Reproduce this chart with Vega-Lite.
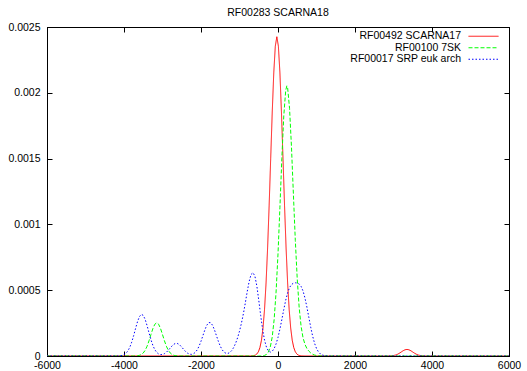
{
  "$schema": "https://vega.github.io/schema/vega-lite/v6.json",
  "width": 462,
  "height": 329,
  "autosize": {"type": "none"},
  "padding": {"left": 47, "top": 27, "right": 18, "bottom": 15},
  "background": "white",
  "title": {"text": "RF00283 SCARNA18", "anchor": "middle", "frame": "group", "fontSize": 10.5, "font": "Liberation Sans", "fontWeight": "normal", "color": "black", "baseline": "alphabetic", "offset": -4},
  "config": {
    "view": {"stroke": "black", "strokeWidth": 1},
    "axis": {"domainColor": "black", "domainWidth": 1, "tickColor": "black", "tickWidth": 1, "tickSize": -5, "labelColor": "black", "labelFont": "Liberation Sans", "labelFontSize": 10.5, "grid": false, "title": null}
  },
  "data": {"values": [
    {"s":"RF00492 SCARNA17","x":-6000,"y":0},
    {"s":"RF00492 SCARNA17","x":-750,"y":0},
    {"s":"RF00492 SCARNA17","x":-710,"y":0.0000004},
    {"s":"RF00492 SCARNA17","x":-670,"y":0.0000011},
    {"s":"RF00492 SCARNA17","x":-630,"y":0.0000028},
    {"s":"RF00492 SCARNA17","x":-590,"y":0.0000066},
    {"s":"RF00492 SCARNA17","x":-550,"y":0.0000149},
    {"s":"RF00492 SCARNA17","x":-510,"y":0.0000318},
    {"s":"RF00492 SCARNA17","x":-470,"y":0.0000635},
    {"s":"RF00492 SCARNA17","x":-430,"y":0.000119},
    {"s":"RF00492 SCARNA17","x":-390,"y":0.000212},
    {"s":"RF00492 SCARNA17","x":-350,"y":0.000353},
    {"s":"RF00492 SCARNA17","x":-310,"y":0.000555},
    {"s":"RF00492 SCARNA17","x":-270,"y":0.000821},
    {"s":"RF00492 SCARNA17","x":-230,"y":0.001143},
    {"s":"RF00492 SCARNA17","x":-190,"y":0.001499},
    {"s":"RF00492 SCARNA17","x":-150,"y":0.00185},
    {"s":"RF00492 SCARNA17","x":-110,"y":0.002151},
    {"s":"RF00492 SCARNA17","x":-70,"y":0.002354},
    {"s":"RF00492 SCARNA17","x":-30,"y":0.002426},
    {"s":"RF00492 SCARNA17","x":10,"y":0.002354},
    {"s":"RF00492 SCARNA17","x":50,"y":0.002151},
    {"s":"RF00492 SCARNA17","x":90,"y":0.00185},
    {"s":"RF00492 SCARNA17","x":130,"y":0.001499},
    {"s":"RF00492 SCARNA17","x":170,"y":0.001143},
    {"s":"RF00492 SCARNA17","x":210,"y":0.000821},
    {"s":"RF00492 SCARNA17","x":250,"y":0.000555},
    {"s":"RF00492 SCARNA17","x":290,"y":0.000353},
    {"s":"RF00492 SCARNA17","x":330,"y":0.000212},
    {"s":"RF00492 SCARNA17","x":370,"y":0.000119},
    {"s":"RF00492 SCARNA17","x":410,"y":0.0000635},
    {"s":"RF00492 SCARNA17","x":450,"y":0.0000318},
    {"s":"RF00492 SCARNA17","x":490,"y":0.0000149},
    {"s":"RF00492 SCARNA17","x":530,"y":0.0000066},
    {"s":"RF00492 SCARNA17","x":570,"y":0.0000028},
    {"s":"RF00492 SCARNA17","x":610,"y":0.0000011},
    {"s":"RF00492 SCARNA17","x":650,"y":0.0000004},
    {"s":"RF00492 SCARNA17","x":700,"y":0},
    {"s":"RF00492 SCARNA17","x":2850,"y":0},
    {"s":"RF00492 SCARNA17","x":2900,"y":0.0000006},
    {"s":"RF00492 SCARNA17","x":2950,"y":0.0000014},
    {"s":"RF00492 SCARNA17","x":3000,"y":0.0000033},
    {"s":"RF00492 SCARNA17","x":3050,"y":0.0000068},
    {"s":"RF00492 SCARNA17","x":3100,"y":0.0000125},
    {"s":"RF00492 SCARNA17","x":3150,"y":0.0000206},
    {"s":"RF00492 SCARNA17","x":3200,"y":0.0000303},
    {"s":"RF00492 SCARNA17","x":3250,"y":0.00004},
    {"s":"RF00492 SCARNA17","x":3300,"y":0.0000473},
    {"s":"RF00492 SCARNA17","x":3350,"y":0.00005},
    {"s":"RF00492 SCARNA17","x":3400,"y":0.0000473},
    {"s":"RF00492 SCARNA17","x":3450,"y":0.00004},
    {"s":"RF00492 SCARNA17","x":3500,"y":0.0000303},
    {"s":"RF00492 SCARNA17","x":3550,"y":0.0000206},
    {"s":"RF00492 SCARNA17","x":3600,"y":0.0000125},
    {"s":"RF00492 SCARNA17","x":3650,"y":0.0000068},
    {"s":"RF00492 SCARNA17","x":3700,"y":0.0000033},
    {"s":"RF00492 SCARNA17","x":3750,"y":0.0000014},
    {"s":"RF00492 SCARNA17","x":3800,"y":0.0000006},
    {"s":"RF00492 SCARNA17","x":3850,"y":0},
    {"s":"RF00492 SCARNA17","x":6000,"y":0},

    {"s":"RF00100 7SK","x":-6000,"y":0},
    {"s":"RF00100 7SK","x":-3750,"y":0},
    {"s":"RF00100 7SK","x":-3700,"y":0.0000007},
    {"s":"RF00100 7SK","x":-3650,"y":0.0000019},
    {"s":"RF00100 7SK","x":-3600,"y":0.0000048},
    {"s":"RF00100 7SK","x":-3550,"y":0.0000111},
    {"s":"RF00100 7SK","x":-3500,"y":0.0000231},
    {"s":"RF00100 7SK","x":-3450,"y":0.0000436},
    {"s":"RF00100 7SK","x":-3400,"y":0.0000746},
    {"s":"RF00100 7SK","x":-3350,"y":0.0001158},
    {"s":"RF00100 7SK","x":-3300,"y":0.000163},
    {"s":"RF00100 7SK","x":-3250,"y":0.000208},
    {"s":"RF00100 7SK","x":-3200,"y":0.000241},
    {"s":"RF00100 7SK","x":-3150,"y":0.000253},
    {"s":"RF00100 7SK","x":-3100,"y":0.000241},
    {"s":"RF00100 7SK","x":-3050,"y":0.000208},
    {"s":"RF00100 7SK","x":-3000,"y":0.000163},
    {"s":"RF00100 7SK","x":-2950,"y":0.0001158},
    {"s":"RF00100 7SK","x":-2900,"y":0.0000746},
    {"s":"RF00100 7SK","x":-2850,"y":0.0000436},
    {"s":"RF00100 7SK","x":-2800,"y":0.0000231},
    {"s":"RF00100 7SK","x":-2750,"y":0.0000111},
    {"s":"RF00100 7SK","x":-2700,"y":0.0000048},
    {"s":"RF00100 7SK","x":-2650,"y":0.0000019},
    {"s":"RF00100 7SK","x":-2600,"y":0.0000007},
    {"s":"RF00100 7SK","x":-2550,"y":0},
    {"s":"RF00100 7SK","x":-500,"y":0},
    {"s":"RF00100 7SK","x":-450,"y":0.0000004},
    {"s":"RF00100 7SK","x":-400,"y":0.0000014},
    {"s":"RF00100 7SK","x":-350,"y":0.0000043},
    {"s":"RF00100 7SK","x":-300,"y":0.0000118},
    {"s":"RF00100 7SK","x":-250,"y":0.0000298},
    {"s":"RF00100 7SK","x":-200,"y":0.0000687},
    {"s":"RF00100 7SK","x":-150,"y":0.0001446},
    {"s":"RF00100 7SK","x":-100,"y":0.0002774},
    {"s":"RF00100 7SK","x":-50,"y":0.0004857},
    {"s":"RF00100 7SK","x":0,"y":0.000776},
    {"s":"RF00100 7SK","x":50,"y":0.0011306},
    {"s":"RF00100 7SK","x":100,"y":0.001503},
    {"s":"RF00100 7SK","x":150,"y":0.0018235},
    {"s":"RF00100 7SK","x":200,"y":0.0020183},
    {"s":"RF00100 7SK","x":230,"y":0.002053},
    {"s":"RF00100 7SK","x":250,"y":0.002039},
    {"s":"RF00100 7SK","x":300,"y":0.0018816},
    {"s":"RF00100 7SK","x":350,"y":0.001588},
    {"s":"RF00100 7SK","x":400,"y":0.001229},
    {"s":"RF00100 7SK","x":450,"y":0.000877},
    {"s":"RF00100 7SK","x":500,"y":0.000583},
    {"s":"RF00100 7SK","x":550,"y":0.000367},
    {"s":"RF00100 7SK","x":600,"y":0.0002254},
    {"s":"RF00100 7SK","x":650,"y":0.0001393},
    {"s":"RF00100 7SK","x":700,"y":0.0000885},
    {"s":"RF00100 7SK","x":750,"y":0.0000574},
    {"s":"RF00100 7SK","x":800,"y":0.0000372},
    {"s":"RF00100 7SK","x":850,"y":0.0000232},
    {"s":"RF00100 7SK","x":900,"y":0.0000135},
    {"s":"RF00100 7SK","x":950,"y":0.0000073},
    {"s":"RF00100 7SK","x":1000,"y":0.0000036},
    {"s":"RF00100 7SK","x":1050,"y":0.0000016},
    {"s":"RF00100 7SK","x":1100,"y":0.0000007},
    {"s":"RF00100 7SK","x":1150,"y":0},
    {"s":"RF00100 7SK","x":6000,"y":0},

    {"s":"RF00017 SRP euk arch","x":-6000,"y":0},
    {"s":"RF00017 SRP euk arch","x":-4300,"y":0},
    {"s":"RF00017 SRP euk arch","x":-4250,"y":0.0000001},
    {"s":"RF00017 SRP euk arch","x":-4200,"y":0.0000003},
    {"s":"RF00017 SRP euk arch","x":-4150,"y":0.0000007},
    {"s":"RF00017 SRP euk arch","x":-4100,"y":0.0000019},
    {"s":"RF00017 SRP euk arch","x":-4050,"y":0.0000045},
    {"s":"RF00017 SRP euk arch","x":-4000,"y":0.00001},
    {"s":"RF00017 SRP euk arch","x":-3950,"y":0.0000204},
    {"s":"RF00017 SRP euk arch","x":-3900,"y":0.0000382},
    {"s":"RF00017 SRP euk arch","x":-3850,"y":0.000066},
    {"s":"RF00017 SRP euk arch","x":-3800,"y":0.0001051},
    {"s":"RF00017 SRP euk arch","x":-3750,"y":0.0001543},
    {"s":"RF00017 SRP euk arch","x":-3700,"y":0.0002087},
    {"s":"RF00017 SRP euk arch","x":-3650,"y":0.0002602},
    {"s":"RF00017 SRP euk arch","x":-3600,"y":0.0002989},
    {"s":"RF00017 SRP euk arch","x":-3550,"y":0.0003165},
    {"s":"RF00017 SRP euk arch","x":-3500,"y":0.0003088},
    {"s":"RF00017 SRP euk arch","x":-3450,"y":0.0002777},
    {"s":"RF00017 SRP euk arch","x":-3400,"y":0.0002302},
    {"s":"RF00017 SRP euk arch","x":-3350,"y":0.0001758},
    {"s":"RF00017 SRP euk arch","x":-3300,"y":0.0001238},
    {"s":"RF00017 SRP euk arch","x":-3250,"y":0.0000803},
    {"s":"RF00017 SRP euk arch","x":-3200,"y":0.000048},
    {"s":"RF00017 SRP euk arch","x":-3150,"y":0.0000273},
    {"s":"RF00017 SRP euk arch","x":-3100,"y":0.0000154},
    {"s":"RF00017 SRP euk arch","x":-3050,"y":0.0000107},
    {"s":"RF00017 SRP euk arch","x":-3000,"y":0.0000116},
    {"s":"RF00017 SRP euk arch","x":-2950,"y":0.0000176},
    {"s":"RF00017 SRP euk arch","x":-2900,"y":0.0000283},
    {"s":"RF00017 SRP euk arch","x":-2850,"y":0.000043},
    {"s":"RF00017 SRP euk arch","x":-2800,"y":0.0000604},
    {"s":"RF00017 SRP euk arch","x":-2750,"y":0.0000773},
    {"s":"RF00017 SRP euk arch","x":-2700,"y":0.0000904},
    {"s":"RF00017 SRP euk arch","x":-2650,"y":0.0000964},
    {"s":"RF00017 SRP euk arch","x":-2600,"y":0.0000938},
    {"s":"RF00017 SRP euk arch","x":-2550,"y":0.0000832},
    {"s":"RF00017 SRP euk arch","x":-2500,"y":0.0000674},
    {"s":"RF00017 SRP euk arch","x":-2450,"y":0.0000498},
    {"s":"RF00017 SRP euk arch","x":-2400,"y":0.0000339},
    {"s":"RF00017 SRP euk arch","x":-2350,"y":0.0000218},
    {"s":"RF00017 SRP euk arch","x":-2300,"y":0.0000144},
    {"s":"RF00017 SRP euk arch","x":-2250,"y":0.0000123},
    {"s":"RF00017 SRP euk arch","x":-2200,"y":0.0000162},
    {"s":"RF00017 SRP euk arch","x":-2150,"y":0.000027},
    {"s":"RF00017 SRP euk arch","x":-2100,"y":0.0000461},
    {"s":"RF00017 SRP euk arch","x":-2050,"y":0.0000745},
    {"s":"RF00017 SRP euk arch","x":-2000,"y":0.000112},
    {"s":"RF00017 SRP euk arch","x":-1950,"y":0.0001553},
    {"s":"RF00017 SRP euk arch","x":-1900,"y":0.0001983},
    {"s":"RF00017 SRP euk arch","x":-1850,"y":0.0002335},
    {"s":"RF00017 SRP euk arch","x":-1800,"y":0.0002534},
    {"s":"RF00017 SRP euk arch","x":-1750,"y":0.0002534},
    {"s":"RF00017 SRP euk arch","x":-1700,"y":0.0002335},
    {"s":"RF00017 SRP euk arch","x":-1650,"y":0.0001983},
    {"s":"RF00017 SRP euk arch","x":-1600,"y":0.0001554},
    {"s":"RF00017 SRP euk arch","x":-1550,"y":0.0001123},
    {"s":"RF00017 SRP euk arch","x":-1500,"y":0.0000751},
    {"s":"RF00017 SRP euk arch","x":-1450,"y":0.0000471},
    {"s":"RF00017 SRP euk arch","x":-1400,"y":0.0000291},
    {"s":"RF00017 SRP euk arch","x":-1350,"y":0.0000203},
    {"s":"RF00017 SRP euk arch","x":-1300,"y":0.0000197},
    {"s":"RF00017 SRP euk arch","x":-1250,"y":0.000027},
    {"s":"RF00017 SRP euk arch","x":-1200,"y":0.000042},
    {"s":"RF00017 SRP euk arch","x":-1150,"y":0.0000653},
    {"s":"RF00017 SRP euk arch","x":-1100,"y":0.0000973},
    {"s":"RF00017 SRP euk arch","x":-1050,"y":0.0001383},
    {"s":"RF00017 SRP euk arch","x":-1000,"y":0.0001886},
    {"s":"RF00017 SRP euk arch","x":-950,"y":0.0002488},
    {"s":"RF00017 SRP euk arch","x":-900,"y":0.0003198},
    {"s":"RF00017 SRP euk arch","x":-850,"y":0.0004014},
    {"s":"RF00017 SRP euk arch","x":-800,"y":0.0004886},
    {"s":"RF00017 SRP euk arch","x":-750,"y":0.0005655},
    {"s":"RF00017 SRP euk arch","x":-700,"y":0.0006196},
    {"s":"RF00017 SRP euk arch","x":-650,"y":0.0006334},
    {"s":"RF00017 SRP euk arch","x":-600,"y":0.0006068},
    {"s":"RF00017 SRP euk arch","x":-550,"y":0.0005327},
    {"s":"RF00017 SRP euk arch","x":-500,"y":0.0004251},
    {"s":"RF00017 SRP euk arch","x":-450,"y":0.0003085},
    {"s":"RF00017 SRP euk arch","x":-400,"y":0.0002022},
    {"s":"RF00017 SRP euk arch","x":-350,"y":0.0001208},
    {"s":"RF00017 SRP euk arch","x":-300,"y":0.0000673},
    {"s":"RF00017 SRP euk arch","x":-250,"y":0.0000387},
    {"s":"RF00017 SRP euk arch","x":-200,"y":0.0000296},
    {"s":"RF00017 SRP euk arch","x":-150,"y":0.0000361},
    {"s":"RF00017 SRP euk arch","x":-100,"y":0.0000566},
    {"s":"RF00017 SRP euk arch","x":-50,"y":0.0000917},
    {"s":"RF00017 SRP euk arch","x":0,"y":0.0001414},
    {"s":"RF00017 SRP euk arch","x":50,"y":0.0002046},
    {"s":"RF00017 SRP euk arch","x":100,"y":0.0002776},
    {"s":"RF00017 SRP euk arch","x":150,"y":0.0003533},
    {"s":"RF00017 SRP euk arch","x":200,"y":0.0004235},
    {"s":"RF00017 SRP euk arch","x":250,"y":0.0004803},
    {"s":"RF00017 SRP euk arch","x":300,"y":0.0005199},
    {"s":"RF00017 SRP euk arch","x":350,"y":0.0005428},
    {"s":"RF00017 SRP euk arch","x":400,"y":0.0005533},
    {"s":"RF00017 SRP euk arch","x":450,"y":0.0005562},
    {"s":"RF00017 SRP euk arch","x":500,"y":0.0005547},
    {"s":"RF00017 SRP euk arch","x":550,"y":0.0005471},
    {"s":"RF00017 SRP euk arch","x":600,"y":0.0005287},
    {"s":"RF00017 SRP euk arch","x":650,"y":0.0004941},
    {"s":"RF00017 SRP euk arch","x":700,"y":0.0004412},
    {"s":"RF00017 SRP euk arch","x":750,"y":0.0003725},
    {"s":"RF00017 SRP euk arch","x":800,"y":0.0002953},
    {"s":"RF00017 SRP euk arch","x":850,"y":0.0002185},
    {"s":"RF00017 SRP euk arch","x":900,"y":0.0001506},
    {"s":"RF00017 SRP euk arch","x":950,"y":0.0000964},
    {"s":"RF00017 SRP euk arch","x":1000,"y":0.0000572},
    {"s":"RF00017 SRP euk arch","x":1050,"y":0.0000314},
    {"s":"RF00017 SRP euk arch","x":1100,"y":0.000016},
    {"s":"RF00017 SRP euk arch","x":1150,"y":0.0000076},
    {"s":"RF00017 SRP euk arch","x":1200,"y":0.0000033},
    {"s":"RF00017 SRP euk arch","x":1250,"y":0.0000013},
    {"s":"RF00017 SRP euk arch","x":1300,"y":0.0000005},
    {"s":"RF00017 SRP euk arch","x":1350,"y":0},
    {"s":"RF00017 SRP euk arch","x":6000,"y":0}
  ]},
  "layer": [
    {
      "mark": {"type": "line", "strokeWidth": 1, "clip": true},
      "encoding": {
        "x": {"field": "x", "type": "quantitative", "scale": {"domain": [-6000, 6000], "nice": false, "zero": false},
              "axis": {"orient": "bottom", "values": [-6000, -4000, -2000, 0, 2000, 4000, 6000], "labelExpr": "'' + datum.value", "labelPadding": 9.5, "labelFlush": false}},
        "y": {"field": "y", "type": "quantitative", "scale": {"domain": [0, 0.0025], "nice": false},
              "axis": {"orient": "left", "values": [0, 0.0005, 0.001, 0.0015, 0.002, 0.0025], "format": "~g", "labelPadding": 12, "labelFlush": false}},
        "color": {"field": "s", "type": "nominal",
                  "scale": {"domain": ["RF00492 SCARNA17", "RF00100 7SK", "RF00017 SRP euk arch"], "range": ["#ff0000", "#00ff00", "#0000ff"]},
                  "legend": {"title": null, "orient": "none", "legendX": 431, "legendY": 3.75, "symbolType": "M-3,0H3", "symbolSize": 100, "symbolStrokeWidth": 1, "labelAlign": "right", "labelOffset": -28, "labelFontSize": 10.5, "labelFont": "Liberation Sans", "labelColor": "black", "labelLimit": 400, "rowPadding": 0.5, "padding": 0}},
        "strokeDash": {"field": "s", "type": "nominal",
                       "scale": {"domain": ["RF00492 SCARNA17", "RF00100 7SK", "RF00017 SRP euk arch"], "range": [[1, 0], [4, 2], [1.5, 2]]},
                       "legend": {"title": null, "orient": "none", "legendX": 431, "legendY": 3.75, "symbolType": "M-3,0H3", "symbolSize": 100, "symbolStrokeWidth": 1, "labelAlign": "right", "labelOffset": -28, "labelFontSize": 10.5, "labelFont": "Liberation Sans", "labelColor": "black", "labelLimit": 400, "rowPadding": 0.5, "padding": 0}}
      }
    },
    {
      "mark": {"type": "line", "opacity": 0},
      "encoding": {
        "x": {"field": "x", "type": "quantitative", "axis": {"orient": "top", "values": [-6000, -4000, -2000, 0, 2000, 4000, 6000], "labels": false, "ticks": true, "tickSize": -5, "domain": true}},
        "y": {"field": "y", "type": "quantitative", "axis": {"orient": "right", "values": [0, 0.0005, 0.001, 0.0015, 0.002, 0.0025], "labels": false, "ticks": true, "tickSize": -5, "domain": true}},
        "detail": {"field": "s"}
      }
    }
  ],
  "resolve": {"axis": {"x": "independent", "y": "independent"}}
}
